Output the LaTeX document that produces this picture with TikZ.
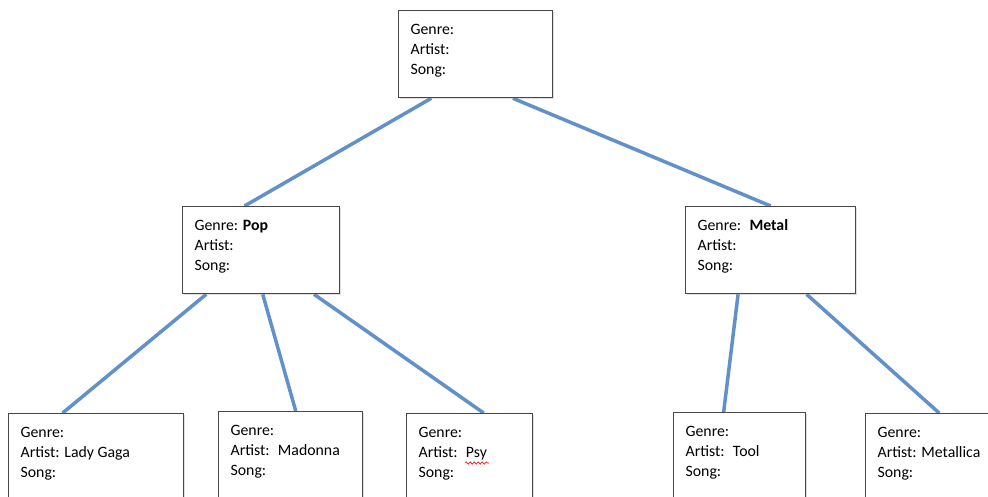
\documentclass[tikz,border=0pt]{standalone}
\usepackage{fontspec}
\setmainfont{Carlito}
\usetikzlibrary{calc,backgrounds,shadows,decorations.pathmorphing}
\definecolor{linkblue}{RGB}{98,144,200}
\tikzset{
  genrebox/.style={draw=black!72, line width=1.3pt, fill=white, anchor=north west,
    inner xsep=12pt, inner ysep=12pt, text height=12pt, text depth=51pt,
    align=flush left, text width=#1,
    drop shadow={shadow xshift=1.5pt, shadow yshift=-1.5pt, opacity=0.25}},
  link/.style={linkblue, line width=3.5pt}
}
\begin{document}
\begin{tikzpicture}[x=1pt, y=-1pt, font=\fontsize{15.8}{20}\selectfont]
\useasboundingbox (0,0) rectangle (988,497);
\clip (0,0) rectangle (988,497);
% boxes
\node[genrebox=130pt] (root) at (398,10) {Genre:\\Artist:\\Song:};
\node[genrebox=133pt] (pop) at (182,206) {Genre: \textbf{Pop}\\Artist:\\Song:};
\node[genrebox=146pt] (metal) at (685,206) {Genre:~ \textbf{Metal}\\Artist:\\Song:};
\node[genrebox=151pt] (gaga) at (8,413) {Genre:\\Artist: Lady Gaga\\Song:};
\node[genrebox=120pt] (madonna) at (218,411) {Genre:\\Artist:~ Madonna\\Song:};
\node[genrebox=102pt] (psy) at (406,413) {Genre:\\Artist:~ Psy\\Song:};
\node[genrebox=108pt] (tool) at (673,412) {Genre:\\Artist:~ Tool\\Song:};
\node[genrebox=126pt] (metallica) at (865,413) {Genre:\\Artist: Metallica\\Song:};

% spell-check squiggle under Psy
\coordinate (sq1) at (465,463);
\coordinate (sq2) at (489,463);
\draw[red, line width=0.6pt, decorate, decoration={snake, amplitude=1.2pt, segment length=4pt}] (sq1) -- (sq2);

% links
\begin{pgfonlayer}{background}
\draw[link] ($(root.south west)!0.214!(root.south east)$) -- ($(pop.north west)!0.395!(pop.north east)$);
\draw[link] ($(root.south west)!0.74!(root.south east)$) -- ($(metal.north west)!0.5!(metal.north east)$);
\draw[link] ($(pop.south west)!0.153!(pop.south east)$) -- ($(gaga.north west)!0.31!(gaga.north east)$);
\draw[link] ($(pop.south west)!0.51!(pop.south east)$) -- ($(madonna.north west)!0.535!(madonna.north east)$);
\draw[link] ($(pop.south west)!0.834!(pop.south east)$) -- ($(psy.north west)!0.61!(psy.north east)$);
\draw[link] ($(metal.south west)!0.31!(metal.south east)$) -- ($(tool.north west)!0.38!(tool.north east)$);
\draw[link] ($(metal.south west)!0.71!(metal.south east)$) -- ($(metallica.north west)!0.49!(metallica.north east)$);
\end{pgfonlayer}
\end{tikzpicture}
\end{document}
